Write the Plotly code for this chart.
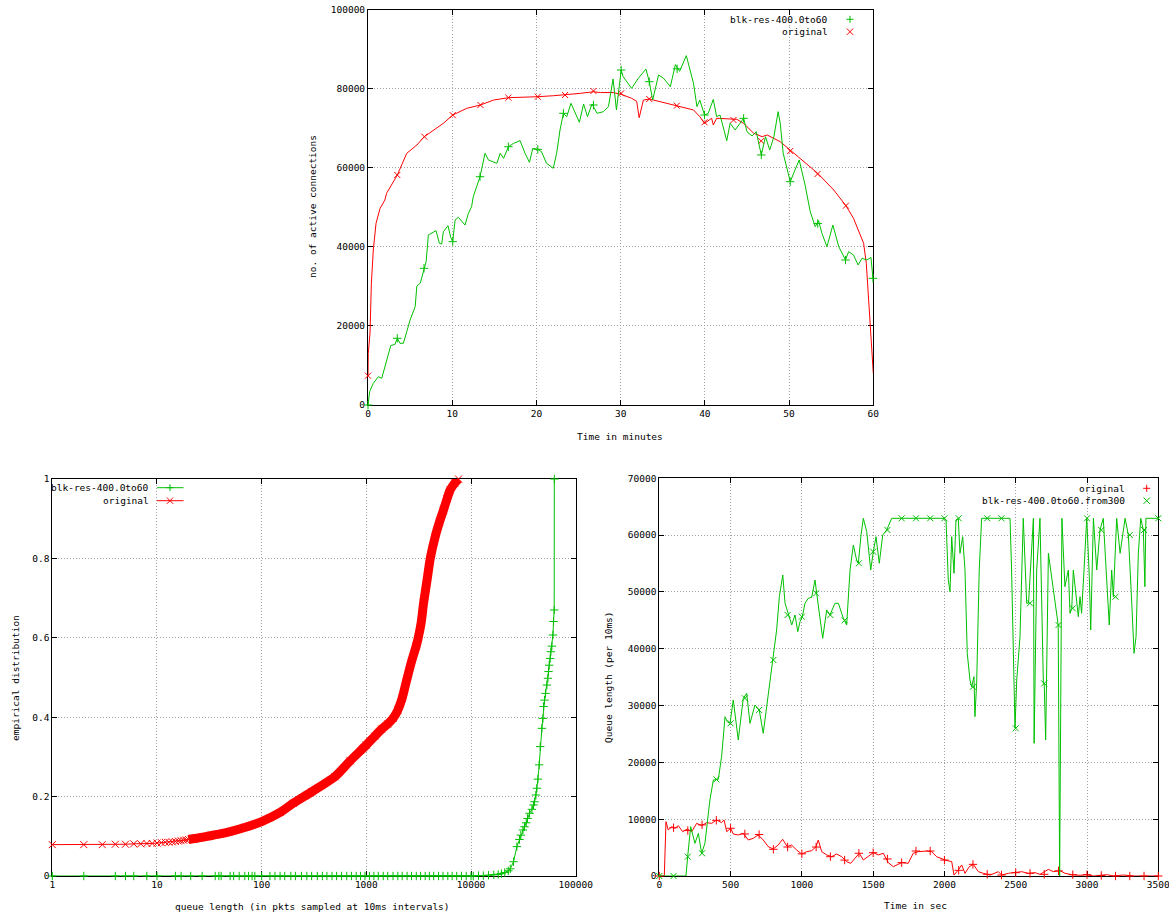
import plotly.graph_objects as go

W, H = 1169, 915
FONT = "DejaVu Sans Mono"
GREEN = "#00c000"
RED = "#ff0000"
GRID = "#a0a0a0"

# ---------------- top panel: active connections vs time (minutes) ----------------
conn_green_t = [0, 0.2, 0.63, 1.23, 1.63, 2.0, 2.4, 2.7, 3.2, 3.48, 3.8, 4.2, 4.6, 5.0, 5.6, 5.8, 6.2,
                6.65, 6.9, 7.17, 7.57, 8.08, 8.47, 8.75, 8.95, 9.5, 9.82, 10.06, 10.34, 10.73, 11.52,
                11.92, 12.3, 12.5, 13.3, 13.9, 14.3, 15.3, 15.7, 16.1, 16.67, 17.3, 18.06, 18.65, 19.17,
                19.57, 20.16, 20.6, 21.2, 22.0, 22.4, 22.8, 23.2, 23.6, 24.1, 24.6, 25.1, 25.6, 26.06,
                26.6, 27.2, 27.96, 28.55, 29.1, 29.5, 30.06, 30.3, 31.3, 32.1, 33.0, 33.4, 33.8, 34.5,
                35.1, 35.9, 36.5, 37.0, 37.8, 38.65, 39.06, 39.4, 39.96, 40.4, 41.0, 41.4, 41.8, 42.6,
                43.0, 43.6, 44.6, 45.0, 45.6, 46.1, 46.7, 47.2, 47.7, 48.2, 48.7, 48.95, 49.3, 50.14,
                50.7, 51.2, 51.9, 52.5, 53.1, 53.5, 53.9, 54.5, 55.2, 55.9, 56.7, 57.07, 57.65, 58.2,
                58.65, 59.25, 59.72, 59.96]
conn_green_v = [0, 3400, 5500, 7150, 6740, 9700, 12200, 15000, 15350, 16870, 15600, 15600, 18540, 21500,
                24860, 30100, 30770, 34560, 36240, 43000, 43400, 44070, 40880, 40700, 43820, 45340, 42400,
                41300, 46780, 47460, 45510, 48470, 50140, 52670, 57720, 63640, 61950, 61110, 63640, 62380,
                65300, 66170, 66830, 63640, 61360, 64900, 64650, 64050, 61100, 59850, 63640, 69530, 73750,
                72900, 76280, 73750, 71480, 76100, 72900, 76100, 73750, 74170, 75430, 82430, 74590, 84700,
                83000, 80070, 82600, 84960, 81750, 77100, 83440, 82600, 80490, 86060, 84370, 88320, 81330,
                75430, 77100, 73320, 73750, 77270, 72900, 73320, 66830, 71230, 69530, 72490, 69100, 68020,
                69100, 63220, 67840, 64480, 67840, 74170, 71230, 63640, 56460, 59420, 61950, 55630, 49000,
                45080, 46600, 43400, 40030, 45510, 40030, 36660, 38770, 37930, 35400, 37080, 36660, 37340,
                32030]
conn_green_mark_t = [0, 3.48, 6.65, 10.06, 13.3, 16.67, 20.16, 23.2, 26.77, 30.06, 33.4, 36.7, 39.96,
                     44.6, 46.7, 50.14, 53.4, 56.7, 59.96]
conn_green_mark_v = [0, 16870, 34560, 41300, 57720, 65300, 64650, 73750, 75850, 84700, 81750, 85000, 73320,
                     72490, 63220, 56460, 45900, 36660, 32030]

conn_red_t = [0, 0.03, 0.24, 0.4, 0.63, 0.95, 1.43, 2.0, 2.2, 3.48, 4.6, 5.8, 6.69, 7.76, 8.95, 10.06,
              11.73, 13.35, 14.9, 16.67, 18.45, 20.16, 22.0, 23.4, 25.2, 26.77, 27.6, 29.1, 30.06, 31.3,
              31.9, 32.2, 32.5, 32.7, 33.4, 34.7, 36.67, 38.65, 39.4, 39.96, 40.8, 41.0, 41.4, 43.8, 44.6,
              45.8, 46.8, 47.4, 48.95, 50.14, 52.1, 53.4, 55.3, 56.75, 57.65, 58.06, 58.85, 59.17, 59.45,
              59.72, 59.87, 60.0]
conn_red_v = [7400, 13000, 18200, 30800, 39200, 45900, 49700, 51800, 53500, 58150, 63640, 65740, 67840,
              69530, 71230, 73300, 75020, 75850, 77100, 77700, 77800, 77950, 78200, 78380, 78800, 79200,
              79000, 79000, 78560, 77550, 76800, 72640, 75500, 77100, 77370, 76700, 75600, 74600, 72900,
              71200, 72500, 70800, 72500, 72230, 71200, 68700, 67850, 68270, 66580, 64480, 61100, 58580,
              54360, 50400, 47200, 45080, 40880, 35830, 26550, 18130, 12200, 8000]
conn_red_mark_t = [0, 3.48, 6.69, 10.06, 13.35, 16.67, 20.16, 23.4, 26.77, 30.06, 33.4, 36.67, 39.96,
                   43.4, 46.69, 50.14, 53.38, 56.75]
conn_red_mark_v = [7400, 58150, 67840, 73300, 75850, 77700, 77950, 78380, 79400, 78800, 77370, 75680,
                   71480, 72060, 66750, 64220, 58400, 50400]

conn_xticks = [0, 10, 20, 30, 40, 50, 60]
conn_yticks = [0, 20000, 40000, 60000, 80000, 100000]
conn_ylabels = ["0", "20000", "40000", "60000", "80000", "100000"]

# ---------------- bottom-left panel: empirical distribution ----------------
cdf_red_q = [1, 2, 3, 4, 5, 6, 7, 8, 9, 10, 11, 12, 13, 14, 15, 16, 17, 18, 19, 20, 22, 24, 26, 28, 30,
             40, 50, 70, 100, 150, 200, 300, 500, 700, 1000, 1200, 1400, 1600, 1800, 2000, 2200, 2400,
             2700, 3000, 3150, 3350, 3520, 3800, 4080, 4550, 5000, 5460, 5900, 6310, 7000, 7600]
cdf_red_p = [0.079, 0.079, 0.079, 0.080, 0.080, 0.081, 0.081, 0.082, 0.082, 0.083, 0.084, 0.085, 0.085,
             0.086, 0.087, 0.088, 0.089, 0.090, 0.091, 0.092, 0.094, 0.095, 0.097, 0.098, 0.100, 0.106,
             0.112, 0.123, 0.137, 0.160, 0.183, 0.212, 0.250, 0.290, 0.330, 0.352, 0.370, 0.383, 0.397,
             0.418, 0.448, 0.488, 0.540, 0.580, 0.603, 0.640, 0.687, 0.745, 0.800, 0.855, 0.892, 0.922,
             0.950, 0.972, 0.990, 1.0]

cdf_green_q = [1, 2, 4, 5, 6, 8, 10, 15, 17, 21, 27, 36, 39, 41, 50, 54, 61, 69, 75, 81, 86, 100, 120, 134,
               150, 166, 190, 210, 240, 270, 300, 340, 380, 420, 470, 520, 580, 650, 720, 800, 880, 970,
               1070, 1180, 1300, 1450, 1600, 1800, 2000, 2200, 2450, 2700, 3000, 3300, 3650, 4000, 4400,
               4900, 5400, 6000, 6600, 7300, 8100, 9000, 10000, 10500, 11800, 13100, 14700, 16500, 18200,
               19500, 21000, 22700, 23700, 25470, 27420, 29040, 29940, 31320, 32450, 33680, 34660, 36230,
               38180, 39550, 40450, 41690, 42590, 43550, 44790, 45800, 47540, 48620, 49310, 50400, 51520,
               53090, 54290, 55000, 55830, 57060, 57920, 59250, 60600, 61400, 62330, 62480]
cdf_green_p = [0, 0, 0, 0, 0, 0, 0, 0, 0, 0, 0, 0, 0, 0, 0, 0, 0, 0, 0, 0, 0, 0, 0, 0,
               0, 0, 0, 0, 0, 0, 0, 0, 0, 0, 0, 0, 0, 0, 0, 0, 0, 0,
               0, 0, 0, 0, 0, 0, 0, 0, 0, 0, 0, 0, 0, 0, 0,
               0, 0, 0, 0, 0, 0, 0, 0, 0, 0.001, 0.001, 0.002, 0.003, 0.004,
               0.006, 0.009, 0.013, 0.018, 0.036, 0.074, 0.092, 0.103, 0.116, 0.124, 0.134, 0.145, 0.158,
               0.168, 0.179, 0.187, 0.204, 0.221, 0.244, 0.280, 0.326, 0.372, 0.397, 0.427, 0.443, 0.460,
               0.481, 0.498, 0.515, 0.531, 0.548, 0.565, 0.579, 0.607, 0.641, 0.670, 1.0]

cdf_xticks = [1, 10, 100, 1000, 10000, 100000]
cdf_xlabels = ["1", "10", "100", "1000", "10000", "100000"]
cdf_yticks = [0, 0.2, 0.4, 0.6, 0.8, 1]
cdf_ylabels = ["0", "0.2", "0.4", "0.6", "0.8", "1"]

# ---------------- bottom-right panel: queue length vs time (sec) ----------------
q_red_t = [0, 35, 47, 63, 87, 110, 133, 164, 196, 227, 262, 297, 332, 367, 402, 437, 454, 473, 501, 519,
           554, 589, 624, 659, 694, 729, 764, 799, 834, 865, 898, 928, 963, 999, 1034, 1069, 1099, 1115,
           1139, 1174, 1209, 1244, 1279, 1314, 1342, 1373, 1403, 1431, 1466, 1501, 1536, 1571, 1606, 1641,
           1700, 1746, 1781, 1816, 1875, 1910, 1945, 2004, 2051, 2067, 2097, 2121, 2144, 2174, 2203, 2238,
           2273, 2320, 2378, 2401, 2448, 2495, 2542, 2588, 2635, 2670, 2729, 2764, 2811, 2846, 2893, 2951,
           2998, 3045, 3139, 3185, 3255, 3325, 3395, 3500]
q_red_v = [0, 0, 9560, 8100, 8680, 8390, 8860, 7800, 8270, 7800, 9270, 8860, 9390, 9270, 9860, 9390, 9860,
           7800, 8390, 7390, 7220, 7510, 6340, 6630, 7220, 6340, 5160, 4750, 5450, 6460, 5160, 5450, 4580,
           3870, 4280, 4460, 5160, 6340, 4280, 3700, 3400, 3870, 3400, 2520, 2230, 3110, 4000, 2820, 3400,
           4110, 3700, 4000, 2350, 1640, 2350, 2230, 4000, 4280, 4400, 4280, 3400, 2820, 2520, 170, 1050,
           1940, 470, 1640, 2050, 760, 470, 170, 760, 170, 470, 590, 760, 470, 590, 290, 1170, 760, 940,
           470, 230, 120, 230, 0, 230, 0, 170, 0, 0, 0]
q_red_mark_t = [0, 100, 200, 300, 400, 500, 600, 700, 800, 900, 1000, 1100, 1200, 1300, 1400, 1500, 1600,
                1700, 1800, 1900, 2000, 2100, 2200, 2300, 2400, 2500, 2600, 2700, 2800, 2900, 3000, 3100,
                3200, 3300, 3400, 3500]
q_red_mark_v = [0, 8500, 8000, 9000, 9800, 8400, 7400, 7300, 4700, 5100, 3900, 5100, 3400, 2800, 4000, 4100,
                3000, 2350, 4400, 4400, 2800, 1000, 2050, 300, 170, 590, 470, 300, 900, 230, 230, 100, 0,
                0, 0, 0]

q_green_t = [0, 100, 187, 199, 220, 250, 274, 297, 320, 355, 379, 414, 437, 461, 477, 496, 519, 554, 589,
             613, 636, 671, 701, 729, 764, 795, 823, 842, 866, 882, 905, 929, 952, 971, 987, 1003, 1022,
             1045, 1069, 1092, 1104, 1127, 1146, 1174, 1197, 1232, 1256, 1291, 1314, 1338, 1361, 1384,
             1396, 1415, 1431, 1455, 1483, 1501, 1520, 1543, 1567, 1595, 1630, 1990, 2011, 2027, 2039,
             2051, 2067, 2081, 2097, 2109, 2128, 2144, 2160, 2179, 2191, 2207, 2214, 2226, 2244, 2261,
             2460, 2471, 2483, 2495, 2507, 2530, 2553, 2577, 2590, 2612, 2624, 2629, 2647, 2670, 2694,
             2700, 2710, 2729, 2745, 2759, 2776, 2798, 2808, 2816, 2824, 2845, 2869, 2881, 2893, 2904,
             2916, 2939, 2951, 2962, 2979, 2998, 3016, 3026, 3045, 3068, 3091, 3114, 3138, 3156, 3173,
             3185, 3208, 3232, 3267, 3290, 3314, 3330, 3344, 3360, 3377, 3395, 3406, 3413, 3500]
q_green_v = [0, 0, 0, 3400, 8680, 5750, 7510, 4000, 5750, 13380, 16900, 17020, 21000, 28040, 27160, 26870,
             30980, 23940, 31280, 32160, 26870, 30100, 29220, 25120, 32160, 38020, 43300, 49160, 52980,
             48000, 45940, 44180, 45940, 43000, 44760, 45640, 48000, 48880, 49050, 52100, 49760, 45350,
             41830, 46820, 45940, 48000, 48000, 45350, 44180, 53860, 58260, 55620, 55040, 60020, 62960,
             60600, 53860, 57080, 59720, 55040, 60020, 60900, 62960, 62960, 62660, 52100, 50040, 59720,
             53270, 62660, 62960, 56800, 59720, 53860, 39200, 34500, 33300, 35080, 28040, 33900, 53860,
             62960, 62960, 53860, 36250, 26000, 34500, 42120, 62960, 48000, 48000, 56800, 62960, 23350,
             53860, 62960, 33900, 33900, 23940, 56800, 53860, 50920, 48000, 44180, 0, 40000, 62960, 50920,
             53860, 46230, 47110, 53860, 50920, 45640, 49160, 46230, 53860, 62960, 52680, 43300, 62960,
             53860, 60900, 62960, 52100, 44180, 53860, 49160, 62960, 56800, 62960, 60020, 48000, 39200,
             42120, 56800, 62960, 60900, 50920, 62960, 62960]
q_green_mark_t = [0, 100, 200, 300, 400, 500, 600, 700, 800, 900, 1000, 1100, 1200, 1300, 1400, 1500, 1600,
                  1700, 1800, 1900, 2000, 2100, 2200, 2300, 2400, 2500, 2600, 2700, 2800, 2900, 3000, 3100,
                  3200, 3300, 3400, 3500]
q_green_mark_v = [0, 0, 3400, 4000, 17000, 26870, 31280, 29220, 38020, 45940, 45640, 49760, 45940, 45000,
                  55040, 57080, 60900, 62960, 62960, 62960, 62960, 62960, 33300, 62960, 62960, 26000, 48000,
                  33900, 44180, 47110, 62960, 60900, 49160, 60020, 60900, 62960]

q_xticks = [0, 500, 1000, 1500, 2000, 2500, 3000, 3500]
q_yticks = [0, 10000, 20000, 30000, 40000, 50000, 60000, 70000]
q_ylabels = ["0", "10000", "20000", "30000", "40000", "50000", "60000", "70000"]


# ---------------- helpers ----------------
def fx(p):
    return p / W


def fy(p):
    return 1 - p / H


tickfont = dict(family=FONT, size=9.5, color="black")
axis_common = dict(showline=True, linecolor="black", linewidth=1, mirror="ticks", ticks="inside",
                   ticklen=5, tickcolor="black", tickwidth=1, showgrid=True, gridcolor=GRID,
                   griddash="1px,2px", gridwidth=1, zeroline=False, tickfont=tickfont,
                   layer="below traces", automargin=False, ticklabeloverflow="allow")


def mk(symbol, color, size=6):
    return dict(symbol=symbol, size=size, color=color, line=dict(width=1, color=color))


fig = go.Figure()

# top panel
fig.add_trace(go.Scatter(x=conn_red_t, y=conn_red_v, mode="lines", line=dict(color=RED, width=1),
                         xaxis="x", yaxis="y", showlegend=False))
fig.add_trace(go.Scatter(x=conn_red_mark_t, y=conn_red_mark_v, mode="markers", marker=mk("x-thin", RED),
                         xaxis="x", yaxis="y", showlegend=False, cliponaxis=False))
fig.add_trace(go.Scatter(x=conn_green_t, y=conn_green_v, mode="lines", line=dict(color=GREEN, width=1),
                         xaxis="x", yaxis="y", showlegend=False))
fig.add_trace(go.Scatter(x=conn_green_mark_t, y=conn_green_mark_v, mode="markers",
                         marker=mk("cross-thin", GREEN), xaxis="x", yaxis="y", showlegend=False,
                         cliponaxis=False))

# bottom-left panel
fig.add_trace(go.Scatter(x=cdf_green_q, y=cdf_green_p, mode="lines+markers", line=dict(color=GREEN, width=1),
                         marker=mk("cross-thin", GREEN), xaxis="x2", yaxis="y2", showlegend=False,
                         cliponaxis=False))
band_q = [q for q in cdf_red_q if q >= 20]
band_p = [p for q, p in zip(cdf_red_q, cdf_red_p) if q >= 20]
fig.add_trace(go.Scatter(x=band_q, y=band_p, mode="lines", line=dict(color=RED, width=9, shape="spline",
                                                                     smoothing=0.6),
                         xaxis="x2", yaxis="y2", showlegend=False))
fig.add_trace(go.Scatter(x=cdf_red_q, y=cdf_red_p, mode="lines+markers", line=dict(color=RED, width=1),
                         marker=mk("x-thin", RED, 7), xaxis="x2", yaxis="y2", showlegend=False,
                         cliponaxis=False))

# bottom-right panel
fig.add_trace(go.Scatter(x=q_red_t, y=q_red_v, mode="lines", line=dict(color=RED, width=1),
                         xaxis="x3", yaxis="y3", showlegend=False))
fig.add_trace(go.Scatter(x=q_red_mark_t, y=q_red_mark_v, mode="markers", marker=mk("cross-thin", RED),
                         xaxis="x3", yaxis="y3", showlegend=False, cliponaxis=False))
fig.add_trace(go.Scatter(x=q_green_t, y=q_green_v, mode="lines", line=dict(color=GREEN, width=1),
                         xaxis="x3", yaxis="y3", showlegend=False))
fig.add_trace(go.Scatter(x=q_green_mark_t, y=q_green_mark_v, mode="markers", marker=mk("x-thin", GREEN),
                         xaxis="x3", yaxis="y3", showlegend=False, cliponaxis=False))

fig.update_layout(
    width=W, height=H, margin=dict(l=0, r=0, t=0, b=0, autoexpand=False),
    paper_bgcolor="white", plot_bgcolor="white", showlegend=False,
    font=dict(family=FONT, size=9.5, color="black"),
    xaxis=dict(domain=[fx(368), fx(873.3)], range=[0, 60], tickvals=conn_xticks, anchor="y", **axis_common),
    yaxis=dict(domain=[fy(405), fy(9.5)], range=[0, 100000], tickvals=conn_yticks, ticktext=conn_ylabels,
               anchor="x", **axis_common),
    xaxis2=dict(domain=[fx(52.3), fx(575.7)], type="log", range=[0, 5], tickvals=cdf_xticks,
                ticktext=cdf_xlabels, anchor="y2", **axis_common),
    yaxis2=dict(domain=[fy(876), fy(479)], range=[0, 1], tickvals=cdf_yticks, ticktext=cdf_ylabels,
                anchor="x2", **axis_common),
    xaxis3=dict(domain=[fx(659.3), fx(1158.3)], range=[0, 3500], tickvals=q_xticks, anchor="y3",
                **axis_common),
    yaxis3=dict(domain=[fy(876), fy(478.3)], range=[0, 70000], tickvals=q_yticks, ticktext=q_ylabels,
                anchor="x3", **axis_common),
)

ann_font = dict(family=FONT, size=9.5, color="black")


def label(xp, yp, text, xanchor="center", angle=0):
    fig.add_annotation(x=fx(xp), y=fy(yp), xref="paper", yref="paper", text=text, showarrow=False,
                       xanchor=xanchor, yanchor="middle", textangle=angle, font=ann_font)


# axis titles
label(313, 207, "no. of active connections", angle=-90)
label(620, 436, "Time in minutes")
label(15, 678, "empirical distribution", angle=-90)
label(312, 906, "queue length (in pkts sampled at 10ms intervals)")
label(608, 677, "Queue length (per 10ms)", angle=-90)
label(915, 905, "Time in sec")

# legends (text right-aligned, sample to the right)
shapes = []


def seg(x0, y0, x1, y1, color):
    shapes.append(dict(type="line", xref="paper", yref="paper", x0=fx(x0), y0=fy(y0), x1=fx(x1), y1=fy(y1),
                       line=dict(color=color, width=1)))


def plus(cx, cy, color, s=3.5):
    seg(cx - s, cy, cx + s, cy, color)
    seg(cx, cy - s, cx, cy + s, color)


def cross(cx, cy, color, s=3.2):
    seg(cx - s, cy - s, cx + s, cy + s, color)
    seg(cx - s, cy + s, cx + s, cy - s, color)


label(830, 19.3, "blk-res-400.0to60", xanchor="right")
plus(850, 19.3, GREEN)
label(830, 31.7, "original", xanchor="right")
cross(850, 31.7, RED)

label(151, 487.7, "blk-res-400.0to60", xanchor="right")
seg(157, 487.7, 183.5, 487.7, GREEN)
plus(170, 487.7, GREEN)
label(151, 500.7, "original", xanchor="right")
seg(157, 500.7, 183.5, 500.7, RED)
cross(170, 500.7, RED)

label(1127.3, 488.3, "original", xanchor="right")
plus(1146.7, 488.3, RED)
label(1127.3, 500.7, "blk-res-400.0to60.from300", xanchor="right")
cross(1146.7, 500.7, GREEN)

fig.update_layout(shapes=shapes)

# remove the browser's default 8px page margin so the figure fills the window exactly
fig.write_html("out.html", config={"displayModeBar": False},
               post_script="document.body.style.margin='0px';")
